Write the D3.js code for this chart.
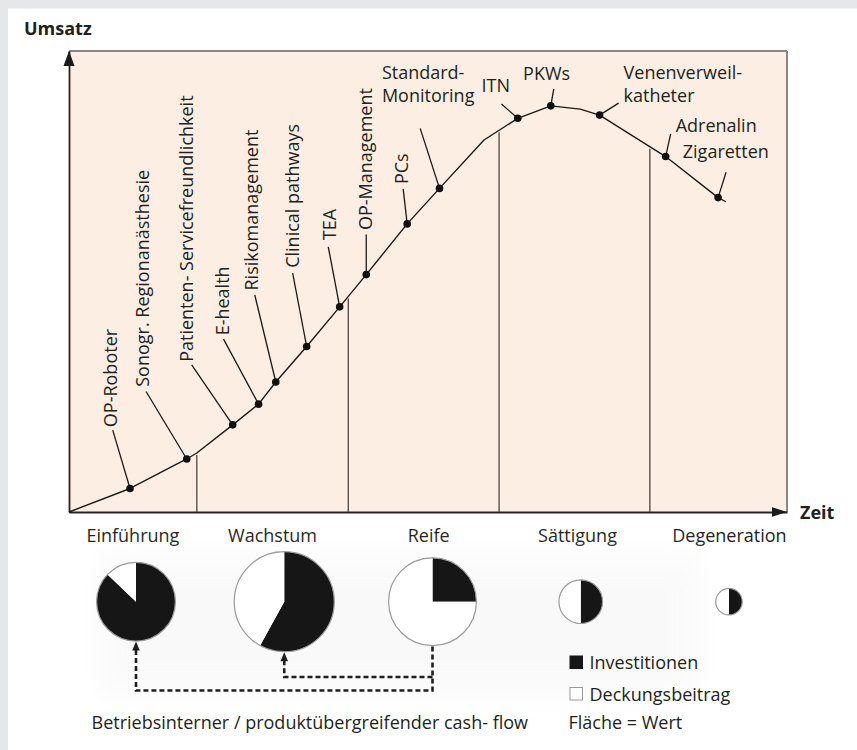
<!DOCTYPE html>
<html><head><meta charset="utf-8">
<script src="https://cdn.jsdelivr.net/npm/d3@7"></script>
<style>
html,body{margin:0;padding:0;background:#e6e7e9;}
svg{display:block;}
text{font-family:"Open Sans",Lato,sans-serif;fill:#231f20;}
</style></head><body>
<svg id="chart" width="857" height="750"></svg>
<script>
// ---------- DATA ----------
// life-cycle curve (time 0..100, sales 0..100)
const curveTime  = [0, 8.5, 16.4, 17.8, 22.8, 26.4, 28.8, 33.1, 37.7, 41.4, 47.1, 51.6, 57.8, 62.5, 67.1, 71.2, 73.9, 83.1, 90.4, 91.5];
const curveSales = [0, 5.1, 11.5, 12.8, 18.9, 23.4, 28.2, 35.9, 44.5, 51.5, 62.5, 70.2, 80.7, 85.4, 88.1, 87.4, 86.1, 77.1, 68.2, 67.3];
// products placed on the curve
const productNames = ["OP-Roboter", "Sonogr. Regionanästhesie", "Patienten- Servicefreundlichkeit", "E-health",
  "Risikomanagement", "Clinical pathways", "TEA", "OP-Management", "PCs", "Standard-\nMonitoring",
  "ITN", "PKWs", "Venenverweil-\nkatheter", "Adrenalin", "Zigaretten"];
const productTime  = [8.5, 16.4, 22.8, 26.4, 28.8, 33.1, 37.7, 41.4, 47.1, 51.6, 62.5, 67.1, 73.9, 83.1, 90.4];
const productSales = [5.1, 11.5, 18.9, 23.4, 28.2, 35.9, 44.5, 51.5, 62.5, 70.2, 85.4, 88.1, 86.1, 77.1, 68.2];
// phases
const phaseNames  = ["Einführung", "Wachstum", "Reife", "Sättigung", "Degeneration"];
const phaseBounds = [17.8, 38.9, 59.9, 80.9];
// cash-flow pies (area = value)
const investitionen   = [54, 58, 19.25, 9.5, 3.5];
const deckungsbeitrag = [8, 42, 57.75, 9.5, 3.5];
const seriesNames = ["Investitionen", "Deckungsbeitrag"];

// ---------- LAYOUT (pixel offsets of annotations relative to their dot) ----------
const labelLayout = [
  {rot:true,  lead:[-17.3,-58.3], text:[-13,-61.3]},
  {rot:true,  lead:[-40.7,-67.5], text:[-38.2,-72.2]},
  {rot:true,  lead:[-41,-60],     text:[-40.2,-63]},
  {rot:true,  lead:[-35,-65],     text:[-30,-68.8]},
  {rot:true,  lead:[-21,-87],     text:[-17.5,-91.5]},
  {rot:true,  lead:[-14,-73.4],   text:[-7.7,-78.7]},
  {rot:true,  lead:[-11.4,-60],   text:[-3.7,-66.7]},
  {rot:true,  lead:[0,-40],       text:[6,-44.5]},
  {rot:true,  lead:[-4,-35],      text:[1,-39.8]},
  {rot:false, lead:[-19.3,-60],   text:[-57.6,-109.4]},
  {rot:false, lead:[-16.3,-14.3], text:[-36.3,-26]},
  {rot:false, lead:[3,-17],       text:[-27.7,-26]},
  {rot:false, lead:[19,-12],      text:[24,-36]},
  {rot:false, lead:[5,-22.7],     text:[10,-25]},
  {rot:false, lead:[8,-25.4],     text:[-35.3,-39.4]}
];
const phaseLabelShift = [0, 0, 5, 3, 11];

// ---------- DRAW ----------
const svg = d3.select("#chart");
const W = 857, H = 750;
const plot = {l:69, r:787, t:51, b:512};
const FS = 18;

svg.append("rect").attr("x",8).attr("y",8.5).attr("width",W-8).attr("height",H-8.5).attr("fill","#fff");

const x = d3.scaleLinear().domain([0,100]).range([plot.l, plot.r]);
const y = d3.scaleLinear().domain([0,100]).range([plot.b, plot.t]);

// plot area
svg.append("rect").attr("x",plot.l).attr("y",plot.t).attr("width",plot.r-plot.l).attr("height",plot.b-plot.t)
  .attr("fill","#fdeee3");
svg.append("line").attr("x1",plot.l).attr("x2",plot.r).attr("y1",plot.t).attr("y2",plot.t)
  .attr("stroke","#8a8685").attr("stroke-width",2);
svg.append("line").attr("x1",plot.r).attr("x2",plot.r).attr("y1",plot.t).attr("y2",plot.b)
  .attr("stroke","#8a8685").attr("stroke-width",2);

// interpolate curve to find divider tops
function salesAt(t){
  for(let i=1;i<curveTime.length;i++){
    if(t<=curveTime[i]){
      const f=(t-curveTime[i-1])/(curveTime[i]-curveTime[i-1]);
      return curveSales[i-1]+f*(curveSales[i]-curveSales[i-1]);
    }
  }
  return curveSales[curveSales.length-1];
}
svg.append("g").selectAll("line").data(phaseBounds).join("line")
  .attr("x1",d=>x(d)).attr("x2",d=>x(d))
  .attr("y1",d=>y(salesAt(d))+2).attr("y2",plot.b)
  .attr("stroke","#4d4544").attr("stroke-width",1.3);

// axes (no ticks)
const xAxis = svg.append("g").attr("transform",`translate(0,${plot.b})`)
  .call(d3.axisBottom(x).tickValues([]).tickSizeOuter(0));
const yAxis = svg.append("g").attr("transform",`translate(${plot.l},0)`)
  .call(d3.axisLeft(y).tickValues([]).tickSizeOuter(0));
[xAxis,yAxis].forEach(a=>a.select(".domain").attr("stroke","#2a2222").attr("stroke-width",1.8));
// arrowheads
svg.append("path").attr("d",`M${plot.l},${plot.t} L${plot.l-5.5},${plot.t+15} L${plot.l+5.5},${plot.t+15} Z`).attr("fill","#1a1a1a");
svg.append("path").attr("d",`M${plot.r},${plot.b} L${plot.r-15},${plot.b-4.8} L${plot.r-15},${plot.b+4.8} Z`).attr("fill","#1a1a1a");

svg.append("text").attr("x",24).attr("y",35).attr("font-size",18).attr("font-weight","bold").text("Umsatz");
svg.append("text").attr("x",800).attr("y",519).attr("font-size",18).attr("font-weight","bold").text("Zeit");

// curve
const line = d3.line().x(d=>x(d[0])).y(d=>y(d[1]));
svg.append("path").datum(d3.zip(curveTime,curveSales)).attr("d",line)
  .attr("fill","none").attr("stroke","#1a1a1a").attr("stroke-width",1.4).attr("stroke-linejoin","round");

// product annotations
const prods = productNames.map((n,i)=>({name:n, t:productTime[i], s:productSales[i], lay:labelLayout[i]}));
const pg = svg.append("g");
prods.forEach(p=>{
  const cx = x(p.t), cy = y(p.s);
  pg.append("line").attr("x1",cx).attr("y1",cy).attr("x2",cx+p.lay.lead[0]).attr("y2",cy+p.lay.lead[1])
    .attr("stroke","#1a1a1a").attr("stroke-width",1.3);
  pg.append("circle").attr("cx",cx).attr("cy",cy).attr("r",3.8).attr("fill","#111");
  const tx = cx+p.lay.text[0], ty = cy+p.lay.text[1];
  if(p.lay.rot){
    pg.append("text").attr("transform",`translate(${tx},${ty}) rotate(-90)`).attr("font-size",FS).text(p.name);
  } else {
    const t = pg.append("text").attr("x",tx).attr("y",ty).attr("font-size",FS);
    p.name.split("\n").forEach((ln,k)=>{
      t.append("tspan").attr("x",tx).attr("dy",k===0?0:23).text(ln);
    });
  }
});

// phase labels
const bounds = [0,...phaseBounds,100];
svg.append("g").selectAll("text").data(phaseNames).join("text")
  .attr("x",(d,i)=>(x(bounds[i])+x(bounds[i+1]))/2 + phaseLabelShift[i])
  .attr("y",541.5).attr("text-anchor","middle").attr("font-size",FS).text(d=>d);

// faint scanned background behind pies
const defs = svg.append("defs");
defs.append("filter").attr("id","blur").attr("x","-20%").attr("y","-20%").attr("width","140%").attr("height","140%")
  .append("feGaussianBlur").attr("stdDeviation",14);
svg.append("rect").attr("x",100).attr("y",555).attr("width",600).attr("height",140)
  .attr("fill","#eeeeee").attr("opacity",0.3).attr("filter","url(#blur)");

// pies
const rScale = d3.scaleSqrt().domain([0,100]).range([0,50]);
const pieX = d3.scalePoint().domain(phaseNames).range([136,729]);
const pieY = 601.7;
const pie = d3.pie().sort(null).value(d=>d.v);
const arc = d3.arc().innerRadius(0);
const colors = ["#161616","#ffffff"];
phaseNames.forEach((ph,i)=>{
  const total = investitionen[i]+deckungsbeitrag[i];
  const r = rScale(total);
  const g = svg.append("g").attr("transform",`translate(${pieX(ph)},${pieY})`);
  const arcs = pie([{k:0,v:investitionen[i]},{k:1,v:deckungsbeitrag[i]}]);
  g.selectAll("path").data(arcs).join("path")
    .attr("d",d=>arc.outerRadius(r)(d)).attr("fill",d=>colors[d.data.k]);
  g.append("circle").attr("r",r).attr("fill","none").attr("stroke","#9a9a9a").attr("stroke-width",1.2);
});

// dashed cash-flow connectors
const rOf = i=>rScale(investitionen[i]+deckungsbeitrag[i]);
const dash = {stroke:"#1e1e1e", w:2.6, da:"5,3"};
const outerY = 690.5, innerY = 677;
function dpath(d){
  svg.append("path").attr("d",d).attr("fill","none").attr("stroke",dash.stroke)
    .attr("stroke-width",dash.w).attr("stroke-dasharray",dash.da);
}
const xR = pieX("Reife"), xE = pieX("Einführung"), xW = pieX("Wachstum");
dpath(`M${xR},${pieY+rOf(2)+1} V${outerY} H${xE} V${pieY+rOf(0)+8}`);
dpath(`M${xR},${innerY} H${xW} V${pieY+rOf(1)+8}`);
function arrowUp(ax, tipY){
  svg.append("path").attr("d",`M${ax},${tipY} L${ax-3.8},${tipY+9} L${ax+3.8},${tipY+9} Z`).attr("fill","#1e1e1e");
}
arrowUp(xE, pieY+rOf(0)+0.5);
arrowUp(xW, pieY+rOf(1)+0.5);

svg.append("text").attr("x",91.5).attr("y",728.5).attr("font-size",FS).text("Betriebsinterner / produktübergreifender cash- flow");

// legend
const leg = svg.append("g");
seriesNames.forEach((n,i)=>{
  leg.append("rect").attr("x",570).attr("y",656+i*31.5).attr("width",12.5).attr("height",12.5)
    .attr("fill",colors[i]).attr("stroke",i===0?"#161616":"#9a9a9a").attr("stroke-width",1);
  leg.append("text").attr("x",589.5).attr("y",669.3+i*31.7).attr("font-size",FS).text(n);
});
leg.append("text").attr("x",568.5).attr("y",728.5).attr("font-size",FS).text("Fläche = Wert");
</script>
</body></html>
